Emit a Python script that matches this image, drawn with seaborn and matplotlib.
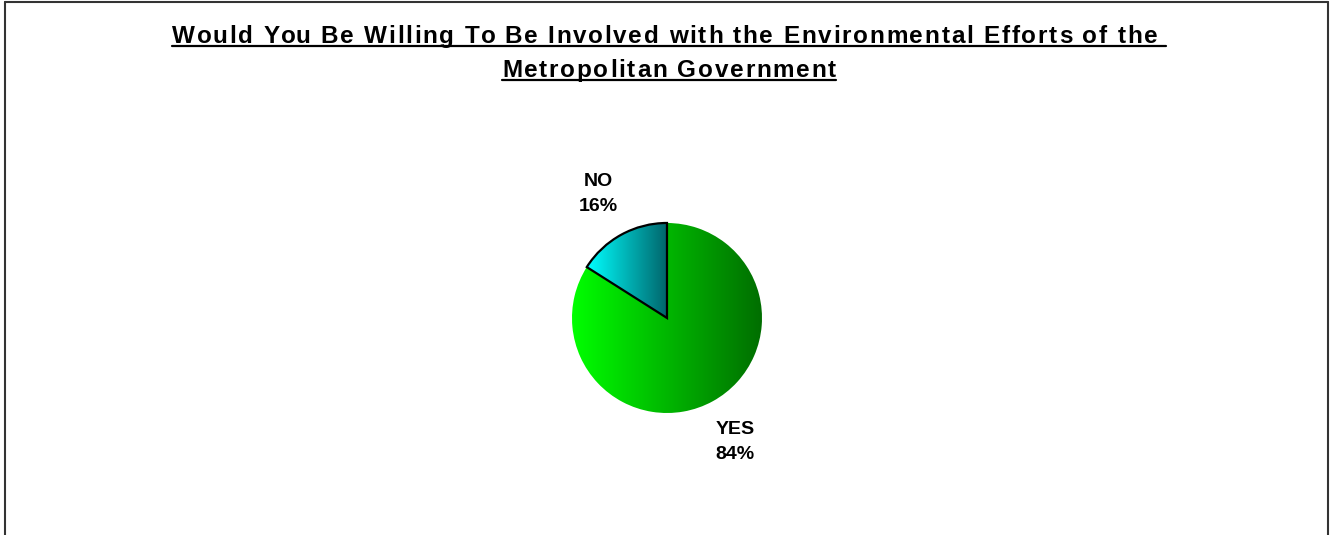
import numpy as np
import matplotlib
matplotlib.use("Agg")
import matplotlib.pyplot as plt
from matplotlib.colors import LinearSegmentedColormap
from matplotlib.lines import Line2D
import seaborn as sns

# data
answers = ["NO", "YES"]
shares = [16, 84]
explode = [0.03, 0.0]
grad_left = ["#00ffff", "#00ff00"]
grad_right = ["#00646a", "#006e00"]
title_lines = ["Would You Be Willing To Be Involved with the Environmental Efforts of the ",
               "Metropolitan Government"]

sns.set_theme(style="white")
plt.rcParams['font.family'] = ['Liberation Sans', 'DejaVu Sans']

W, H = 1333, 535
fig = plt.figure(figsize=(W / 100, H / 100), dpi=100)
ax = fig.add_axes([0, 0, 1, 1])

cx, cy, r = 667, H - 318, 95
labels = [f"{a}\n{s}%" for a, s in zip(answers, shares)]
wedges, texts = ax.pie(shares, labels=labels, explode=explode, startangle=90,
                       counterclock=True, center=(cx, cy), radius=r,
                       labeldistance=1.49,
                       textprops=dict(fontsize=14, fontweight='bold', color='black',
                                      linespacing=1.6))
for t in texts:
    t.set_ha('center')
    t.set_va('center')

# gradient fill clipped to each wedge
grad = np.linspace(0, 1, 256).reshape(1, -1)
for i, w in enumerate(wedges):
    ext = w.get_path().get_extents()
    cmap = LinearSegmentedColormap.from_list(f"g{i}", [grad_left[i], grad_right[i]])
    im = ax.imshow(grad, cmap=cmap, extent=[ext.x0, ext.x1, ext.y0, ext.y1],
                   origin='lower', aspect='auto', zorder=1, interpolation='bilinear')
    im.set_clip_path(w)
    w.set_facecolor('none')
    w.set_zorder(2)
    if answers[i] == "NO":
        w.set_edgecolor('black')
        w.set_linewidth(1.6)
    else:
        w.set_edgecolor('none')

ax.set_xlim(0, W)
ax.set_ylim(0, H)
ax.set_aspect('auto')
ax.axis('off')

fig.canvas.draw()
renderer = fig.canvas.get_renderer()


def spaced_text(s, xc, base, size, spacing):
    # draw a letter-spaced line centred on xc (pixels), baseline at base (pixels from top)
    probe = fig.text(0, 0, s, fontsize=size, fontweight='bold')
    def width(sub):
        probe.set_text(sub + "|")
        w1 = probe.get_window_extent(renderer).width
        probe.set_text("|")
        return w1 - probe.get_window_extent(renderer).width
    total = width(s) + spacing * (len(s) - 1)
    x0 = xc - total / 2
    for k, ch in enumerate(s):
        x = x0 + width(s[:k]) + spacing * k
        fig.text(x / W, (H - base) / H, ch, ha='left', va='baseline',
                 fontsize=size, fontweight='bold', color='black')
    probe.remove()
    return x0, x0 + total


baselines = [43, 77]
for line, b in zip(title_lines, baselines):
    x0, x1 = spaced_text(line, 669, b, 17.5, 1.75)
    yy = (H - b - 2.5) / H
    fig.add_artist(Line2D([x0 / W, x1 / W], [yy, yy], color='black', lw=1.6))

# chart border (left, top, right)
bc = '#333333'
fig.add_artist(Line2D([5 / W, 5 / W], [0, (H - 2) / H], color=bc, lw=1.5))
fig.add_artist(Line2D([5 / W, 1328 / W], [(H - 2) / H, (H - 2) / H], color=bc, lw=1.5))
fig.add_artist(Line2D([1328 / W, 1328 / W], [0, (H - 2) / H], color=bc, lw=1.5))

fig.savefig("out.png", dpi=100)
